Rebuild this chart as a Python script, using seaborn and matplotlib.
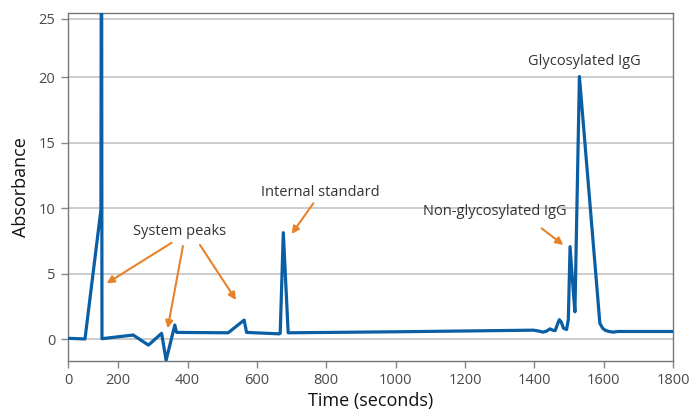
import matplotlib
matplotlib.use("Agg")
import matplotlib.pyplot as plt
import seaborn as sns
import pandas as pd

# Chromatogram trace (time in seconds, absorbance)
time_s = [56, 104, 150, 151, 152, 153, 243, 287, 325, 338, 363, 368, 517, 563, 570,
          664, 667, 676, 690, 1012, 1397, 1415, 1424, 1435, 1445, 1453, 1460, 1466,
          1472, 1478, 1484, 1493, 1498, 1503, 1510, 1517, 1530, 1589, 1597, 1604,
          1615, 1628, 1640, 1800]
absorbance = [0.08, 0.03, 9.9, 30.0, 30.0, 0.05, 0.33, -0.44, 0.46, -1.6, 1.09, 0.53,
              0.5, 1.47, 0.53, 0.42, 0.46, 8.14, 0.5, 0.58, 0.7, 0.62, 0.55, 0.62,
              0.8, 0.7, 0.66, 1.1, 1.5, 1.3, 0.85, 0.75, 1.5, 7.07, 4.5, 2.1, 20.05,
              1.22, 0.85, 0.7, 0.6, 0.55, 0.6, 0.6]

x_tick_values = [200, 400, 600, 800, 1000, 1200, 1400, 1600, 1800]
y_tick_labels = ["0", "5", "10", "15", "20", "25"]

annotations = [
    ("System peaks", 378, 8.21),
    ("Internal standard", 784, 11.17),
    ("Non-glycosylated IgG", 1287, 9.74),
    ("Glycosylated IgG", 1543, 21.19),
]
arrows = [  # (start x, start y, end x, end y)
    (354, 7.37, 166.5, 4.27),
    (386.6, 7.12, 342.5, 0.84),
    (435.6, 7.2, 539.5, 3.0),
    (762.5, 10.38, 700, 8.04),
    (1421, 8.47, 1483.6, 7.2),
]

sns.set_theme(style="white")
plt.rcParams["font.family"] = ["Open Sans", "DejaVu Sans"]

fig = plt.figure(figsize=(6.91, 4.13), dpi=100)
ax = fig.add_axes([0.0984, 0.1266, 0.8756, 0.842])

df = pd.DataFrame({"Time": time_s, "Absorbance": absorbance})
sns.lineplot(data=df, x="Time", y="Absorbance", ax=ax, sort=False, estimator=None,
             color="#0a5ea3", linewidth=2.3, zorder=3)

ax.set_xlim(55, 1800)
ax.set_ylim(-1.63, 24.9)

ax.set_xticks([55] + x_tick_values)
ax.set_xticklabels(["0"] + [str(v) for v in x_tick_values])
ytick_pos = [0, 5, 10, 15, 20, 24.45]
ax.set_yticks(ytick_pos)
ax.set_yticklabels(y_tick_labels)
for yp in ytick_pos:
    ax.axhline(yp, color="#c4c4c4", linewidth=1.2, zorder=1)

ax.tick_params(axis="both", which="both", direction="out", length=5, width=1,
               color="#888888", labelcolor="#4a4a4a", labelsize=10.5, pad=4,
               bottom=True, left=True)
for side in ["left", "bottom", "top", "right"]:
    ax.spines[side].set_visible(True)
    ax.spines[side].set_color("#777777")
    ax.spines[side].set_linewidth(1.0)

ax.set_xlabel("Time (seconds)", fontsize=13, color="#111111", labelpad=3)
ax.set_ylabel("Absorbance", fontsize=13, color="#111111", labelpad=6)

for text, tx, ty in annotations:
    ax.text(tx, ty, text, ha="center", va="center", fontsize=10.5, color="#333333", zorder=5)

for sx, sy, ex, ey in arrows:
    ax.annotate("", xy=(ex, ey), xytext=(sx, sy),
                arrowprops=dict(arrowstyle="-|>", color="#e8822a", lw=1.5,
                                mutation_scale=11, shrinkA=0, shrinkB=0),
                zorder=5)

fig.savefig("out.png", dpi=100)
